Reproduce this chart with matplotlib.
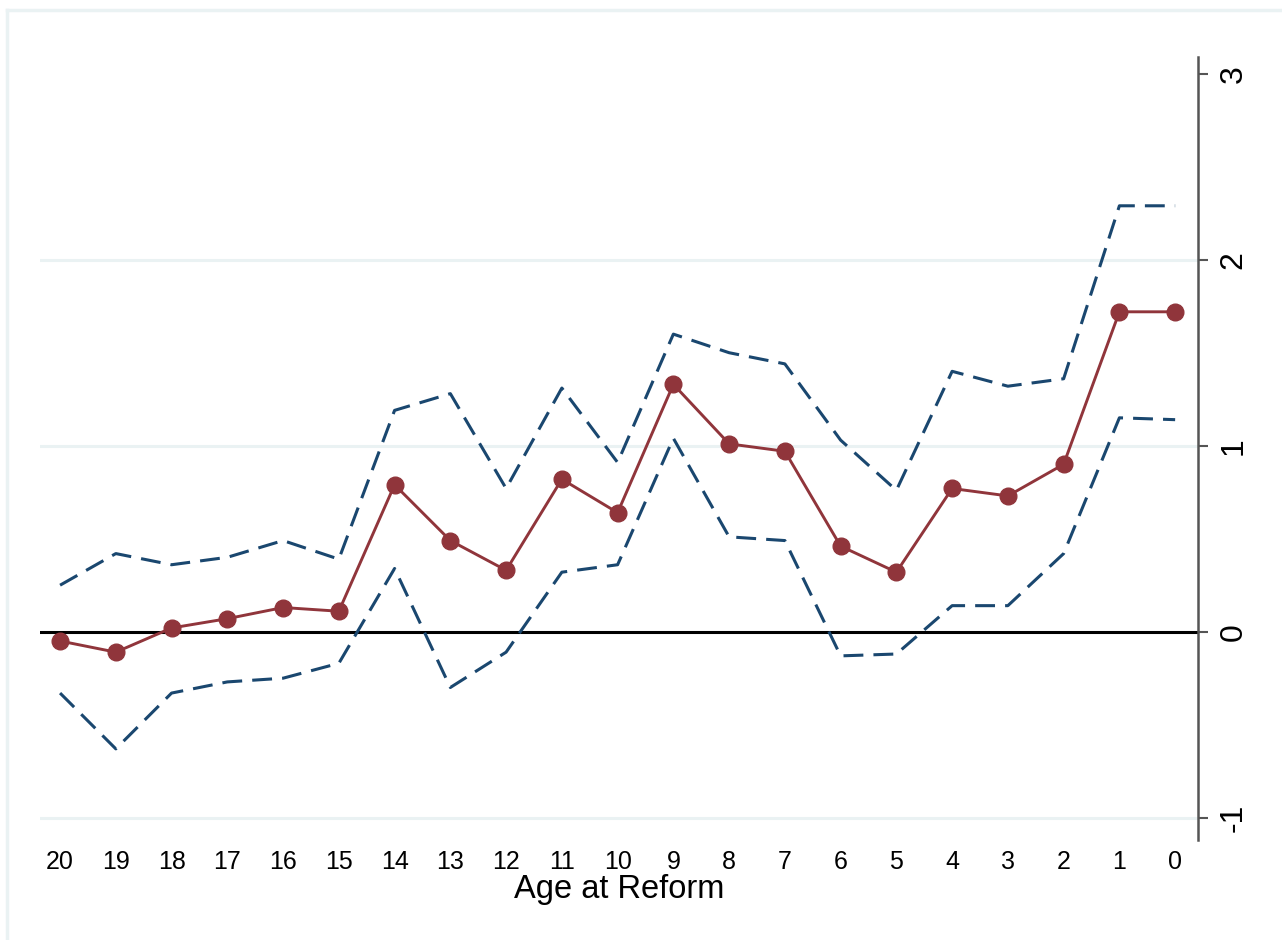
import matplotlib
matplotlib.use("Agg")
import matplotlib.pyplot as plt
from matplotlib.lines import Line2D

plt.rcParams["font.family"] = ["Liberation Sans", "DejaVu Sans"]

# Age at reform (years) and estimated effects with 95% confidence bounds
age = [20, 19, 18, 17, 16, 15, 14, 13, 12, 11, 10, 9, 8, 7, 6, 5, 4, 3, 2, 1, 0]
coef = [-0.05, -0.11, 0.02, 0.07, 0.13, 0.11, 0.79, 0.49, 0.33, 0.82, 0.64,
        1.33, 1.01, 0.97, 0.46, 0.32, 0.77, 0.73, 0.90, 1.72, 1.72]
upper = [0.25, 0.42, 0.36, 0.40, 0.49, 0.39, 1.19, 1.28, 0.77, 1.31, 0.91,
         1.60, 1.50, 1.44, 1.03, 0.76, 1.40, 1.32, 1.36, 2.29, 2.29]
lower = [-0.33, -0.63, -0.33, -0.27, -0.25, -0.17, 0.34, -0.30, -0.11, 0.32, 0.36,
         1.04, 0.51, 0.49, -0.13, -0.12, 0.14, 0.14, 0.42, 1.15, 1.14]
y_ticks = [-1, 0, 1, 2, 3]
grid_vals = [-1, 1, 2]

maroon = "#90353B"
navy = "#1A476F"
light = "#EAF2F3"

fig = plt.figure(figsize=(12.82, 9.4), dpi=100)
fig.patch.set_facecolor("white")

# light outer frame
fig.add_artist(Line2D([7 / 1282, 1.0], [1 - 10 / 940, 1 - 10 / 940],
                      transform=fig.transFigure, color=light, lw=2.5))
fig.add_artist(Line2D([7 / 1282, 7 / 1282], [1 - 10 / 940, 0.0],
                      transform=fig.transFigure, color=light, lw=2.5))

ax = fig.add_axes([40 / 1282, 1 - 840 / 940, (1198 - 40) / 1282, (840 - 57) / 940])

for g in grid_vals:
    ax.axhline(g, color=light, lw=2.2, zorder=0)
ax.axhline(0, color="black", lw=2.2, zorder=1)

ax.plot(age, upper, color=navy, lw=2.2, dashes=(6.5, 3.3), zorder=2)
ax.plot(age, lower, color=navy, lw=2.2, dashes=(6.5, 3.3), zorder=2)
ax.plot(age, coef, color=maroon, lw=2.1, marker="o", markersize=12,
        markeredgecolor=maroon, markerfacecolor=maroon, zorder=3)

ax.set_xlim(20.36, -0.41)
ax.set_ylim(-1.12, 3.09)

ax.set_xticks(age)
ax.set_xticklabels([str(a) for a in age], fontsize=18)
ax.tick_params(axis="x", length=0, pad=7)

ax.yaxis.tick_right()
ax.set_yticks(y_ticks)
ax.set_yticklabels([str(v) for v in y_ticks], fontsize=23, rotation=90,
                   va="center")
ax.tick_params(axis="y", direction="out", length=7, width=1.5, color="#555555", pad=8)

for side in ["top", "left", "bottom"]:
    ax.spines[side].set_visible(False)
ax.spines["right"].set_color("#555555")
ax.spines["right"].set_linewidth(1.8)

ax.set_xlabel("Age at Reform", fontsize=23.5, labelpad=0)

fig.savefig("out.png", dpi=100, facecolor="white")
